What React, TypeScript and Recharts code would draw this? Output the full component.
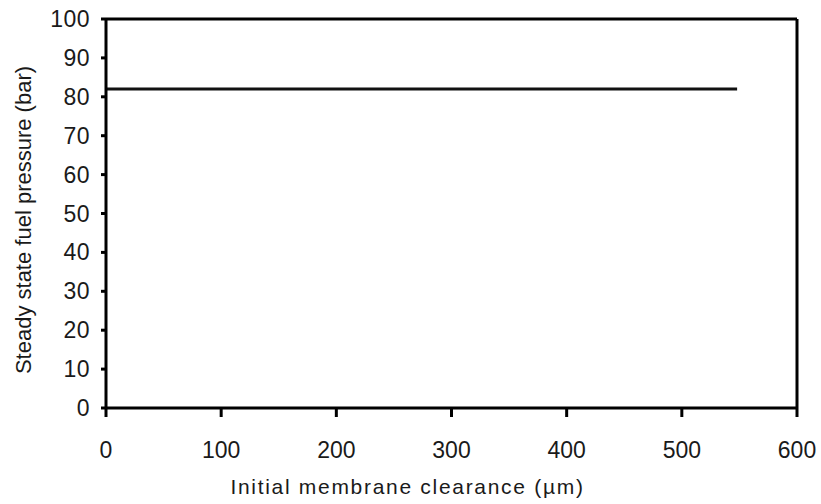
import React from 'react';
import {
  LineChart,
  Line,
  XAxis,
  YAxis,
  ReferenceLine,
} from 'recharts';

// clearance (µm) vs steady state pressure (bar)
const clearance = [0, 548];
const pressure = [82, 82];

const xTicks = [0, 100, 200, 300, 400, 500, 600];
const yTicks = [0, 10, 20, 30, 40, 50, 60, 70, 80, 90, 100];

const xTitle = 'Initial membrane clearance (µm)';
const yTitle = 'Steady state fuel pressure (bar)';

const data = clearance.map((c, i) => ({ clearance: c, pressure: pressure[i] }));

const font = 'Liberation Sans, Arial, sans-serif';
const ink = '#1a1a1a';

// title under the x axis, sits a bit left of the plot centre in the original
const XTitle = ({ viewBox }: any) => {
  const cx = viewBox.x + viewBox.width / 2 - 44;
  return (
    <text x={cx} y={494} textAnchor="middle" fill={ink} fontSize={21} fontFamily={font} letterSpacing={1.7}>
      {xTitle}
    </text>
  );
};

const YTitle = () => {
  const cy = 220;
  return (
    <text x={31} y={cy} transform={`rotate(-90 31 ${cy})`} textAnchor="middle" fill={ink} fontSize={22} fontFamily={font}>
      {yTitle}
    </text>
  );
};

const XTick = ({ x, y, payload }: any) => (
  <text x={x} y={y + 41} textAnchor="middle" fill={ink} fontSize={23} fontFamily={font}>
    {payload.value}
  </text>
);

const YTick = ({ x, y, payload }: any) => (
  <text x={x - 11} y={y + 8} textAnchor="end" fill={ink} fontSize={23} fontFamily={font} letterSpacing={0.5}>
    {payload.value}
  </text>
);

const App: React.FC = () => {
  return (
    <div style={{ position: 'absolute', left: 0, top: 0, width: 821, height: 504, background: '#fff', fontFamily: font }}>
      <LineChart
        width={821}
        height={504}
        data={data}
        margin={{ top: 19, right: 24, left: 46, bottom: 36 }}
      >
        <XAxis
          dataKey="clearance"
          type="number"
          domain={[0, 600]}
          ticks={xTicks}
          interval={0}
          height={60}
          stroke="#000"
          strokeWidth={3}
          tickSize={9}
          tickMargin={0}
          tick={<XTick />}
          label={<XTitle />}
        />
        <YAxis
          type="number"
          domain={[0, 100]}
          ticks={yTicks}
          interval={0}
          width={60}
          stroke="#000"
          strokeWidth={3}
          tickSize={5}
          tickMargin={0}
          tick={<YTick />}
          label={<YTitle />}
        />
        <ReferenceLine y={100} stroke="#000" strokeWidth={3} ifOverflow="visible" />
        <ReferenceLine x={600} stroke="#000" strokeWidth={3} ifOverflow="visible" />
        <Line
          type="linear"
          dataKey="pressure"
          stroke="#111"
          strokeWidth={3}
          dot={false}
          isAnimationActive={false}
        />
      </LineChart>
    </div>
  );
};

export default App;
